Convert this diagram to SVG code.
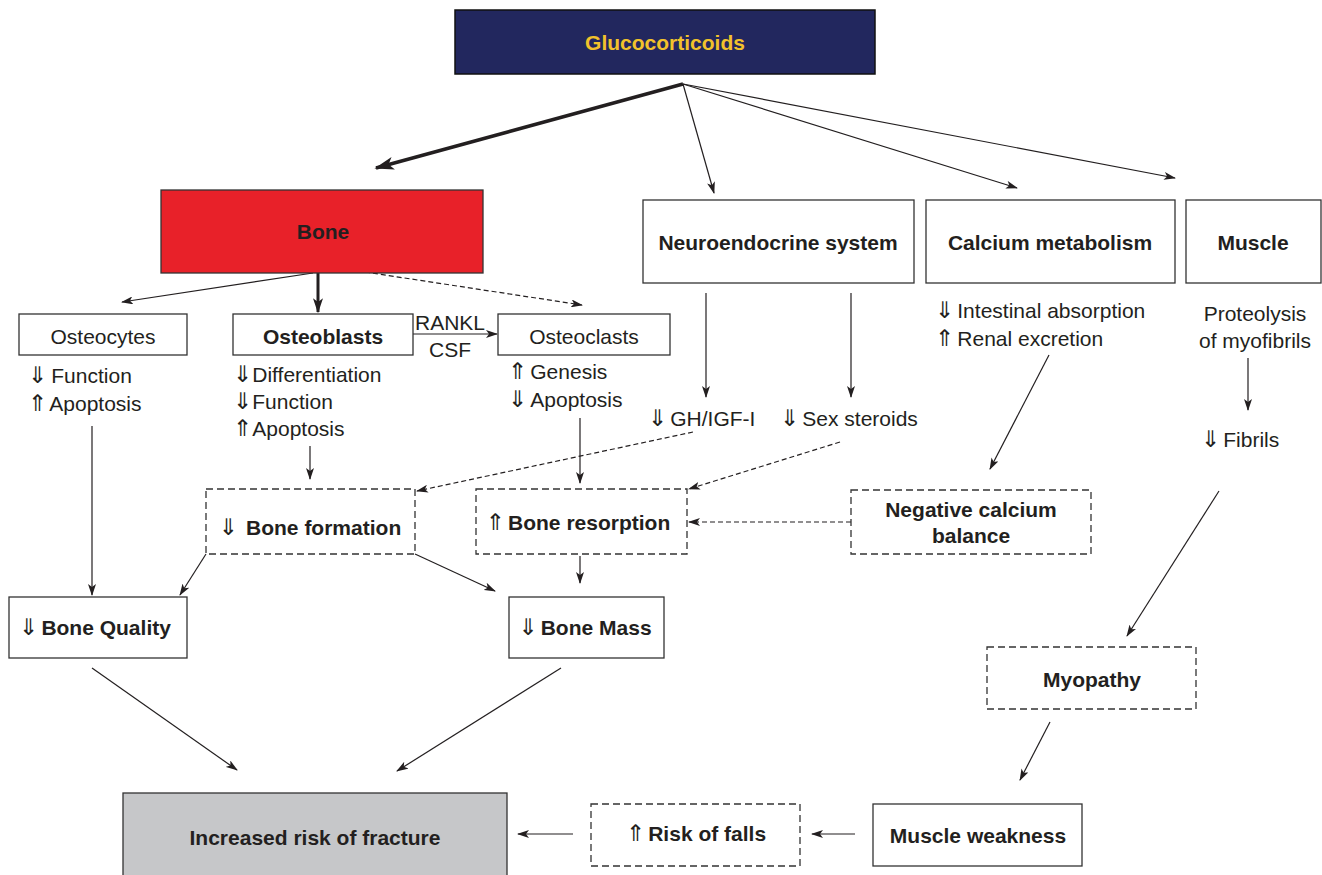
<svg xmlns="http://www.w3.org/2000/svg" width="1322" height="875" viewBox="0 0 1322 875">
<defs>
<marker id="ah" viewBox="0 0 12 8" refX="11" refY="4" markerWidth="12" markerHeight="8" markerUnits="userSpaceOnUse" orient="auto">
<path d="M0,0 L12,4 L0,8 L3,4 z" fill="#231f20"/>
</marker>
<marker id="ahb" viewBox="0 0 12 8" refX="11" refY="4" markerWidth="20" markerHeight="13" markerUnits="userSpaceOnUse" orient="auto">
<path d="M0,0 L12,4 L0,8 L3,4 z" fill="#231f20"/>
</marker>
<marker id="ahm" viewBox="0 0 12 8" refX="11" refY="4" markerWidth="15" markerHeight="10" markerUnits="userSpaceOnUse" orient="auto">
<path d="M0,0 L12,4 L0,8 L3,4 z" fill="#231f20"/>
</marker>
</defs>
<style>
text{font-family:"Liberation Sans",Arial,"DejaVu Sans",sans-serif;fill:#231f20;font-size:21px}
.b{font-weight:bold}
.m{text-anchor:middle}
.ar{font-family:"DejaVu Sans",sans-serif;font-weight:normal;font-size:23px}
.box{fill:#fff;stroke:#333;stroke-width:1.3}
.dbox{fill:#fff;stroke:#333;stroke-width:1.3;stroke-dasharray:7,4}
.ln{fill:none;stroke:#231f20;stroke-width:1.2;marker-end:url(#ah)}
.dl{fill:none;stroke:#231f20;stroke-width:1.2;stroke-dasharray:5,3;marker-end:url(#ah)}
</style>
<rect width="1322" height="875" fill="#fff"/>

<g id="connectors">
<line x1="683" y1="84" x2="376" y2="168" stroke="#231f20" stroke-width="3.5" fill="none" marker-end="url(#ahb)"/>
<line class="ln" x1="683" y1="84" x2="714" y2="193"/>
<line class="ln" x1="683" y1="84" x2="1017" y2="188"/>
<line class="ln" x1="683" y1="84" x2="1175" y2="178"/>
<line class="ln" x1="313" y1="273" x2="122" y2="302"/>
<line x1="318" y1="273" x2="318" y2="312" stroke="#231f20" stroke-width="3" fill="none" marker-end="url(#ahm)"/>
<line class="dl" x1="365" y1="272" x2="582" y2="305"/>
<line class="ln" x1="413" y1="334" x2="497" y2="334"/>
<line class="ln" x1="92" y1="426" x2="92" y2="595"/>
<line class="ln" x1="310" y1="446" x2="310" y2="479"/>
<line class="ln" x1="580" y1="418" x2="580" y2="483"/>
<line class="ln" x1="706" y1="293" x2="706" y2="397"/>
<line class="ln" x1="851" y1="293" x2="851" y2="397"/>
<line class="dl" x1="693" y1="432" x2="417" y2="491"/>
<line class="dl" x1="840" y1="442" x2="689" y2="489"/>
<line class="ln" x1="1049" y1="355" x2="990" y2="469"/>
<line class="dl" x1="851" y1="522" x2="689" y2="522"/>
<line class="ln" x1="1248" y1="358" x2="1248" y2="410"/>
<line class="ln" x1="1219" y1="491" x2="1127" y2="636"/>
<line class="ln" x1="206" y1="554" x2="180" y2="595"/>
<line class="ln" x1="415" y1="554" x2="495" y2="591"/>
<line class="ln" x1="580" y1="556" x2="580" y2="583"/>
<line class="ln" x1="92" y1="668" x2="237" y2="770"/>
<line class="ln" x1="561" y1="668" x2="397" y2="771"/>
<line class="ln" x1="1050" y1="722" x2="1020" y2="780"/>
<line class="ln" x1="855" y1="834" x2="812" y2="834"/>
<line class="ln" x1="573" y1="834" x2="518" y2="834"/>
</g>

<g id="glucocorticoids">
<rect x="455" y="10" width="420" height="64" fill="#22275e" stroke="#111" stroke-width="1.5"/>
<text class="b m" x="665" y="50" style="fill:#f2c22b">Glucocorticoids</text>
</g>

<g id="bone">
<rect x="161" y="190" width="322" height="83" fill="#e82129" stroke="#333" stroke-width="1.3"/>
<text class="b m" x="323" y="239">Bone</text>
</g>

<g id="neuroendocrine">
<rect class="box" x="643" y="200" width="271" height="83"/>
<text class="b m" x="778" y="250">Neuroendocrine system</text>
</g>

<g id="calcium">
<rect class="box" x="926" y="200" width="249" height="83"/>
<text class="b m" x="1050" y="250">Calcium metabolism</text>
</g>

<g id="muscle">
<rect class="box" x="1186" y="200" width="135" height="83"/>
<text class="b m" x="1253" y="250">Muscle</text>
</g>

<g id="osteocytes">
<rect class="box" x="19" y="314" width="168" height="41"/>
<text class="m" x="103" y="344">Osteocytes</text>
<text x="28" y="383"><tspan class="ar">⇓</tspan><tspan dx="4">Function</tspan></text>
<text x="28" y="411"><tspan class="ar">⇑</tspan><tspan dx="2">Apoptosis</tspan></text>
</g>

<g id="osteoblasts">
<rect class="box" x="233" y="314" width="180" height="41"/>
<text class="b m" x="323" y="344">Osteoblasts</text>
<text x="233" y="382"><tspan class="ar">⇓</tspan>Differentiation</text>
<text x="233" y="409"><tspan class="ar">⇓</tspan>Function</text>
<text x="233" y="436"><tspan class="ar">⇑</tspan>Apoptosis</text>
</g>

<g id="rankl">
<text class="m" x="450" y="330">RANKL</text>
<text class="m" x="450" y="357">CSF</text>
</g>

<g id="osteoclasts">
<rect class="box" x="498" y="314" width="172" height="41"/>
<text class="m" x="584" y="344">Osteoclasts</text>
<text x="508" y="379"><tspan class="ar">⇑</tspan><tspan dx="3">Genesis</tspan></text>
<text x="508" y="407"><tspan class="ar">⇓</tspan><tspan dx="3">Apoptosis</tspan></text>
</g>

<g id="gh">
<text x="648" y="426"><tspan class="ar">⇓</tspan><tspan dx="3">GH/IGF-I</tspan></text>
</g>
<g id="sex">
<text x="780" y="426"><tspan class="ar">⇓</tspan><tspan dx="3">Sex steroids</tspan></text>
</g>

<g id="calcium-effects">
<text x="935" y="318"><tspan class="ar">⇓</tspan><tspan dx="3">Intestinal absorption</tspan></text>
<text x="935" y="346"><tspan class="ar">⇑</tspan><tspan dx="3">Renal excretion</tspan></text>
</g>

<g id="proteolysis">
<text class="m" x="1255" y="321">Proteolysis</text>
<text class="m" x="1255" y="348">of myofibrils</text>
</g>
<g id="fibrils">
<text x="1201" y="447"><tspan class="ar">⇓</tspan><tspan dx="3">Fibrils</tspan></text>
</g>

<g id="bone-formation">
<rect class="dbox" x="206" y="489" width="209" height="65"/>
<text class="b m" x="310" y="535"><tspan class="ar">⇓</tspan><tspan dx="8">Bone formation</tspan></text>
</g>

<g id="bone-resorption">
<rect class="dbox" x="476" y="489" width="211" height="65"/>
<text class="b m" x="578" y="530"><tspan class="ar">⇑</tspan><tspan dx="3">Bone resorption</tspan></text>
</g>

<g id="negative-calcium">
<rect class="dbox" x="851" y="490" width="240" height="64"/>
<text class="b m" x="971" y="517">Negative calcium</text>
<text class="b m" x="971" y="543">balance</text>
</g>

<g id="bone-quality">
<rect class="box" x="9" y="597" width="178" height="61"/>
<text class="b m" x="95" y="635"><tspan class="ar">⇓</tspan><tspan dx="3">Bone Quality</tspan></text>
</g>

<g id="bone-mass">
<rect class="box" x="509" y="597" width="155" height="61"/>
<text class="b m" x="585" y="635"><tspan class="ar">⇓</tspan><tspan dx="3">Bone Mass</tspan></text>
</g>

<g id="myopathy">
<rect class="dbox" x="987" y="647" width="209" height="62"/>
<text class="b m" x="1092" y="687">Myopathy</text>
</g>

<g id="muscle-weakness">
<rect class="box" x="873" y="804" width="209" height="62"/>
<text class="b m" x="978" y="843">Muscle weakness</text>
</g>

<g id="risk-falls">
<rect class="dbox" x="591" y="804" width="209" height="62"/>
<text class="b m" x="696" y="841"><tspan class="ar">⇑</tspan><tspan dx="3">Risk of falls</tspan></text>
</g>

<g id="fracture">
<rect x="123" y="793" width="384" height="90" fill="#c6c7c9" stroke="#333" stroke-width="1.3"/>
<text class="b m" x="315" y="845">Increased risk of fracture</text>
</g>
</svg>
